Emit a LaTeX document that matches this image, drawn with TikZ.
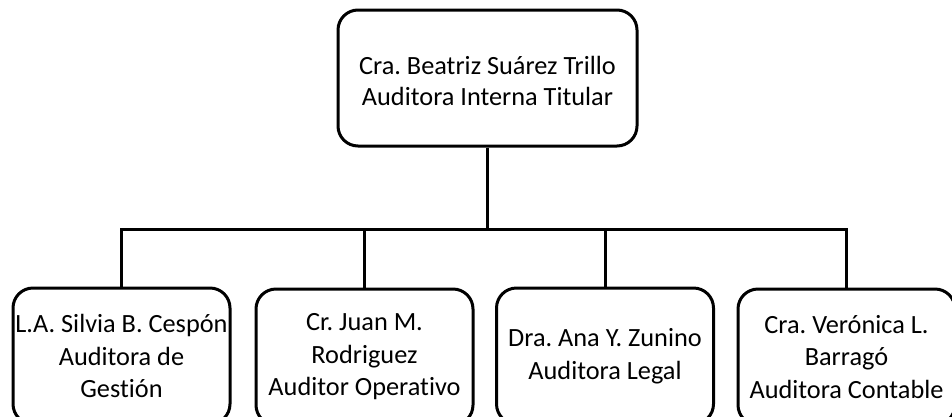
\documentclass[tikz,border=0pt]{standalone}
\usepackage{fontspec}
\setmainfont[Ligatures=NoCommon]{Carlito}
\begin{document}
\frenchspacing
\begin{tikzpicture}[x=1pt,y=-1pt,
  box/.style={draw=black, line width=3pt, rounded corners=20pt, minimum width=217pt, minimum height=136pt, inner sep=0pt, align=center, font=\fontsize{26.3pt}{32.5pt}\selectfont},
  txt/.style={inner sep=0pt, align=center, font=\fontsize{26.3pt}{30.5pt}\selectfont},
  conn/.style={draw=black, line width=3pt, line join=miter}]
\useasboundingbox (0,0) rectangle (952,416);
\node[box, minimum width=299pt] (top) at (487.5,78) {};
\node[txt] (toptext) at (487.5,81) {Cra. Beatriz Suárez Trillo\\Auditora Interna Titular};
\node[box] (b1) at (121.5,356) {L.A. Silvia B. Cespón\\Auditora de\\Gestión};
\node[box] (b2) at (364.5,357) {Cr. Juan M.\\Rodriguez\\Auditor Operativo};
\node[box] (b3) at (605,356) {Dra. Ana Y. Zunino\\Auditora Legal};
\node[box] (b4) at (846.5,357) {Cra. Verónica L.\\Barragó\\Auditora Contable};
\coordinate (bus) at (487.5,229);
\draw[conn] (top.south) -- (bus);
\draw[conn] (b1.north) |- (b4.north |- bus) -- (b4.north);
\draw[conn] (b2.north) -- (b2.north |- bus);
\draw[conn] (b3.north) -- (b3.north |- bus);
\end{tikzpicture}
\end{document}
